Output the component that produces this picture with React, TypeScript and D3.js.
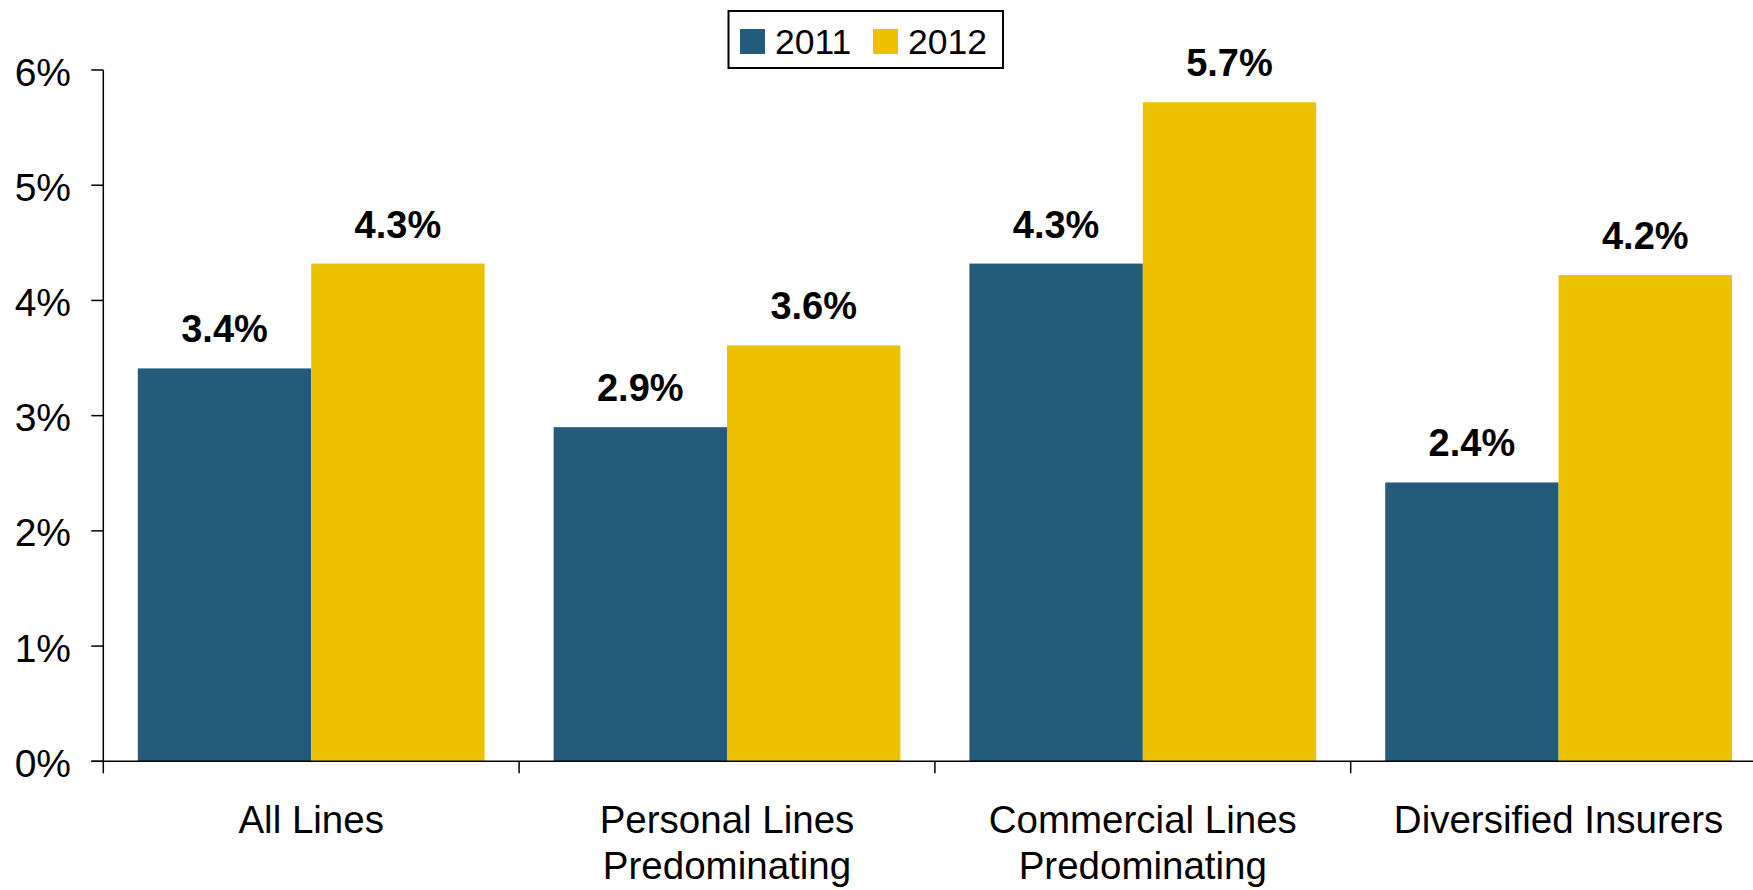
import React from "react";
import * as d3 from "d3";

const categories: string[][] = [
  ["All Lines"],
  ["Personal Lines", "Predominating"],
  ["Commercial Lines", "Predominating"],
  ["Diversified Insurers"],
];
const seriesNames = ["2011", "2012"];
const values2011 = [3.41, 2.9, 4.32, 2.42];
const values2012 = [4.32, 3.61, 5.72, 4.22];
const labels2011 = ["3.4%", "2.9%", "4.3%", "2.4%"];
const labels2012 = ["4.3%", "3.6%", "5.7%", "4.2%"];
const yTicks = [0, 1, 2, 3, 4, 5, 6];
const colors = ["#235B7A", "#ECC200"];

const W = 1753;
const H = 890;
const FONT = "'Liberation Sans', Arial, Helvetica, sans-serif";

export default function App() {
  const keys = categories.map((c) => c.join(" "));
  const x0 = d3
    .scaleBand<string>()
    .domain(keys)
    .range([103.3, 1766.5])
    .paddingInner(0.166)
    .paddingOuter(0.083);
  const x1 = d3.scaleBand<string>().domain(seriesNames).range([0, x0.bandwidth()]).padding(0);
  const y = d3.scaleLinear().domain([0, 6]).range([761.3, 70]);
  const step = x0.step();
  const start = x0.range()[0];
  const series = [
    { name: seriesNames[0], values: values2011, labels: labels2011, color: colors[0] },
    { name: seriesNames[1], values: values2012, labels: labels2012, color: colors[1] },
  ];

  return (
    <svg width={W} height={H} style={{ position: "absolute", left: 0, top: 0, background: "#fff" }} fontFamily={FONT}>
      <rect x={0} y={0} width={W} height={H} fill="#fff" />
      {series.map((s) =>
        keys.map((k, i) => (
          <rect
            key={s.name + k}
            x={(x0(k) as number) + (x1(s.name) as number)}
            y={y(s.values[i])}
            width={x1.bandwidth()}
            height={y(0) - y(s.values[i])}
            fill={s.color}
          />
        ))
      )}
      {series.map((s) =>
        keys.map((k, i) => (
          <text
            key={"l" + s.name + k}
            x={(x0(k) as number) + (x1(s.name) as number) + x1.bandwidth() / 2}
            y={y(s.values[i]) - 26}
            textAnchor="middle"
            fontSize={38}
            fontWeight="bold"
            fill="#000"
          >
            {s.labels[i]}
          </text>
        ))
      )}
      <line x1={start} x2={start} y1={y(6)} y2={y(0) + 12} stroke="#000" strokeWidth={1.5} />
      {yTicks.map((t) => (
        <g key={"yt" + t}>
          <line x1={start - 12} x2={start} y1={y(t)} y2={y(t)} stroke="#000" strokeWidth={1.5} />
          <text x={71} y={y(t) + 15.5} textAnchor="end" fontSize={39} fill="#000">
            {t + "%"}
          </text>
        </g>
      ))}
      <line x1={start - 12} x2={x0.range()[1]} y1={y(0)} y2={y(0)} stroke="#000" strokeWidth={1.5} />
      {keys.map((k, i) => (
        <line
          key={"xt" + k}
          x1={start + step * (i + 1)}
          x2={start + step * (i + 1)}
          y1={y(0)}
          y2={y(0) + 12}
          stroke="#000"
          strokeWidth={1.5}
        />
      ))}
      {categories.map((lines, i) => (
        <text
          key={"cat" + i}
          x={(x0(keys[i]) as number) + x0.bandwidth() / 2}
          y={832.5}
          textAnchor="middle"
          fontSize={38.5}
          fill="#000"
        >
          {lines.map((ln, j) => (
            <tspan key={j} x={(x0(keys[i]) as number) + x0.bandwidth() / 2} dy={j === 0 ? 0 : 46}>
              {ln}
            </tspan>
          ))}
        </text>
      ))}
      <rect x={728.5} y={11} width={274.5} height={57} fill="#fff" stroke="#000" strokeWidth={2} />
      {series.map((s, i) => (
        <g key={"lg" + s.name} transform={`translate(${740 + i * 133},0)`}>
          <rect x={0} y={29} width={25} height={25} fill={s.color} />
          <text x={35} y={53.7} fontSize={35.5} fill="#000">
            {s.name}
          </text>
        </g>
      ))}
    </svg>
  );
}
